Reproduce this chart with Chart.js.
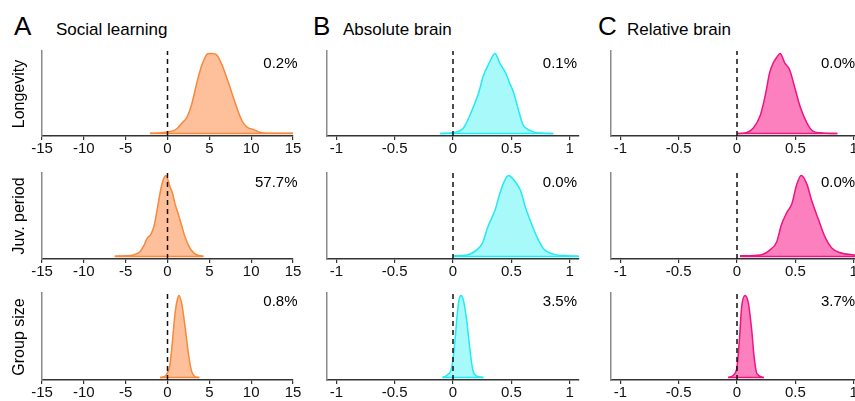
<!DOCTYPE html>
<html>
<head>
<meta charset="utf-8">
<script src="https://cdn.jsdelivr.net/npm/chart.js@4.4.0/dist/chart.umd.min.js"></script>
<style>
html, body { margin: 0; padding: 0; background: #fff; overflow: hidden; }
#wrap { position: relative; width: 855px; height: 401px; overflow: hidden; font-family: 'Liberation Sans', Arial, sans-serif; color: #000; }
#wrap canvas { position: absolute; }
.txt { position: absolute; white-space: nowrap; line-height: 1; }
</style>
</head>
<body>
<div id="wrap"></div>
<script>
// panel labels and titles
const panelLetters = ['A', 'B', 'C'];
const columnTitles = ['Social learning', 'Absolute brain', 'Relative brain'];
const rowLabels = ['Longevity', 'Juv. period', 'Group size'];

// share of posterior below zero, per row then column
const belowZero = [
    ['0.2%', '0.1%', '0.0%'],
    ['57.7%', '0.0%', '0.0%'],
    ['0.8%', '3.5%', '3.7%']
];

// x axis ticks
const ticksSocial = [-15, -10, -5, 0, 5, 10, 15];
const ticksBrain = [-1, -0.5, 0, 0.5, 1];

// posterior densities (relative height)
const socialLongevityX = [-2.1, -1.0, 0.0, 0.5, 1.1, 1.7, 2.3, 2.9, 3.5, 4.0, 4.4, 4.8, 5.3, 5.9, 6.5, 7.3, 8.1, 8.9, 9.5, 10.3, 10.9, 11.5, 13, 15];
const socialLongevityY = [0.005, 0.008, 0.02, 0.03, 0.06, 0.13, 0.2, 0.37, 0.63, 0.82, 0.93, 0.995, 1.0, 0.98, 0.86, 0.63, 0.38, 0.16, 0.08, 0.05, 0.02, 0.008, 0.004, 0.003];

const socialJuvX = [-6.3, -5, -4.1, -3.3, -2.8, -2.4, -2.0, -1.6, -1.2, -0.8, -0.5, -0.2, 0.1, 0.3, 0.6, 0.9, 1.3, 1.7, 2.1, 2.7, 3.2, 3.7, 4.3];
const socialJuvY = [0.005, 0.01, 0.02, 0.06, 0.14, 0.23, 0.27, 0.38, 0.6, 0.83, 0.95, 1.0, 0.93, 0.86, 0.78, 0.65, 0.52, 0.38, 0.24, 0.1, 0.04, 0.015, 0.005];

const socialGroupX = [-0.9, -0.4, -0.1, 0.3, 0.6, 0.9, 1.2, 1.37, 1.7, 2.1, 2.5, 2.9, 3.3, 3.8];
const socialGroupY = [0.0, 0.01, 0.04, 0.16, 0.45, 0.78, 0.96, 1.0, 0.9, 0.62, 0.29, 0.07, 0.01, 0.0];

const absLongevityX = [-0.11, -0.05, 0.0, 0.05, 0.09, 0.16, 0.22, 0.26, 0.31, 0.36, 0.40, 0.45, 0.48, 0.52, 0.56, 0.60, 0.66, 0.70, 0.78, 0.86];
const absLongevityY = [0.0, 0.003, 0.01, 0.03, 0.07, 0.28, 0.51, 0.72, 0.88, 1.0, 0.88, 0.76, 0.65, 0.51, 0.30, 0.11, 0.04, 0.015, 0.005, 0.0];

const absJuvX = [0.0, 0.12, 0.20, 0.25, 0.30, 0.36, 0.40, 0.44, 0.475, 0.53, 0.58, 0.62, 0.66, 0.72, 0.78, 0.86, 0.98, 1.08];
const absJuvY = [0.01, 0.02, 0.08, 0.16, 0.37, 0.57, 0.77, 0.93, 1.0, 0.93, 0.81, 0.61, 0.45, 0.24, 0.09, 0.03, 0.01, 0.005];

const absGroupX = [-0.09, -0.05, -0.01, 0.017, 0.037, 0.054, 0.069, 0.088, 0.117, 0.146, 0.17, 0.2, 0.26];
const absGroupY = [0, 0.03, 0.13, 0.45, 0.78, 0.96, 1.0, 0.95, 0.7, 0.33, 0.09, 0.02, 0];

const relLongevityX = [0.0, 0.08, 0.14, 0.2, 0.24, 0.28, 0.31, 0.34, 0.37, 0.41, 0.45, 0.5, 0.54, 0.6, 0.65, 0.71, 0.86];
const relLongevityY = [0, 0.01, 0.07, 0.23, 0.46, 0.76, 0.88, 0.95, 1.0, 0.88, 0.8, 0.55, 0.34, 0.13, 0.03, 0.01, 0];

const relJuvX = [0.026, 0.2, 0.28, 0.34, 0.38, 0.43, 0.47, 0.51, 0.55, 0.60, 0.64, 0.70, 0.755, 0.81, 0.88, 1.0, 1.08];
const relJuvY = [0.01, 0.02, 0.08, 0.18, 0.39, 0.55, 0.65, 0.88, 1.0, 0.89, 0.69, 0.45, 0.24, 0.11, 0.05, 0.02, 0.01];

const relGroupX = [-0.075, -0.03, 0.0, 0.02, 0.04, 0.069, 0.097, 0.126, 0.146, 0.17, 0.23];
const relGroupY = [0, 0.03, 0.13, 0.45, 0.86, 1.0, 0.91, 0.58, 0.26, 0.05, 0];

const densities = [
    [[socialLongevityX, socialLongevityY], [absLongevityX, absLongevityY], [relLongevityX, relLongevityY]],
    [[socialJuvX, socialJuvY], [absJuvX, absJuvY], [relJuvX, relJuvY]],
    [[socialGroupX, socialGroupY], [absGroupX, absGroupY], [relGroupX, relGroupY]]
];

// styling per column
const lineColors = ['#f7883c', '#22eaf4', '#ee1482'];
const fillColors = ['#fdc09a', '#a8fafa', '#fd80be'];
const xRanges = [[-15, 15], [-1.08, 1.08], [-1.08, 1.08]];
const xTicks = [ticksSocial, ticksBrain, ticksBrain];

// plot area boxes in page pixels
const colLeft = [42, 327, 611];
const colRight = [293, 579, 863];
const rowTop = [51, 173, 293];
const rowBottom = [136, 259, 380];

const wrap = document.getElementById('wrap');
const tickFont = "'Liberation Sans Narrow', 'Arial Narrow', 'Liberation Sans', sans-serif";

function addText(str, x, baseline, size, alignRight) {
    const d = document.createElement('div');
    d.className = 'txt';
    d.textContent = str;
    d.style.fontSize = size + 'px';
    d.style.left = x + 'px';
    d.style.top = (baseline - 0.8465 * size) + 'px';
    if (alignRight) d.style.transform = 'translateX(-100%)';
    wrap.appendChild(d);
}

function addRotated(str, cx, cy, size) {
    const d = document.createElement('div');
    d.className = 'txt';
    d.textContent = str;
    d.style.fontSize = size + 'px';
    d.style.left = cx + 'px';
    d.style.top = cy + 'px';
    d.style.transform = 'translate(-50%, -50%) rotate(-90deg)';
    wrap.appendChild(d);
}

function makePanel(row, col) {
    const [xs, ys] = densities[row][col];
    const padL = col === 0 ? 42 : 20, padR = 12, padT = 6, padB = 26;
    const w = colRight[col] - colLeft[col] + padL + padR;
    const h = rowBottom[row] - rowTop[row] + padT + padB;

    const canvas = document.createElement('canvas');
    canvas.width = w;
    canvas.height = h;
    canvas.style.left = (colLeft[col] - padL) + 'px';
    canvas.style.top = (rowTop[row] - padT) + 'px';
    canvas.style.width = w + 'px';
    canvas.style.height = h + 'px';
    wrap.appendChild(canvas);

    const curve = xs.map((x, i) => ({ x: x, y: ys[i] }));
    const base = [{ x: xs[0], y: 0 }, { x: xs[xs.length - 1], y: 0 }];
    const zeroLine = [{ x: 0, y: -0.03 }, { x: 0, y: 1.03 }];
    const ticks = xTicks[col];

    new Chart(canvas.getContext('2d'), {
        type: 'line',
        data: {
            datasets: [
                { data: zeroLine, borderColor: '#111', borderWidth: 1.5, borderDash: [5, 4], pointRadius: 0, fill: false, order: 0 },
                { data: base, borderColor: lineColors[col], borderWidth: 1.5, pointRadius: 0, fill: false, order: 1 },
                {
                    data: curve, borderColor: lineColors[col], backgroundColor: fillColors[col],
                    borderWidth: 1.5, pointRadius: 0, fill: 'origin', cubicInterpolationMode: 'monotone', order: 2
                }
            ]
        },
        options: {
            responsive: false,
            animation: false,
            devicePixelRatio: 1,
            layout: { padding: { left: padL, right: padR, top: padT, bottom: 0 } },
            plugins: { legend: { display: false }, tooltip: { enabled: false } },
            scales: {
                x: {
                    type: 'linear',
                    min: xRanges[col][0],
                    max: xRanges[col][1],
                    afterBuildTicks: (scale) => { scale.ticks = ticks.map(v => ({ value: v })); },
                    afterFit: (scale) => { scale.height = padB; },
                    grid: { display: true, drawOnChartArea: false, drawTicks: true, tickLength: 4, color: '#333', lineWidth: 1.2 },
                    border: { display: true, color: '#333', width: 1.5 },
                    ticks: {
                        autoSkip: false, maxRotation: 0, padding: 0, color: '#111',
                        font: { family: tickFont, size: 15 },
                        callback: (v) => String(v)
                    }
                },
                y: {
                    type: 'linear',
                    min: -0.03,
                    max: 1.03,
                    afterFit: (scale) => { scale.width = 0; },
                    grid: { display: false },
                    border: { display: true, color: '#8a8a8a', width: 1.5 },
                    ticks: { display: false }
                }
            }
        }
    });
}

for (let r = 0; r < 3; r++) {
    for (let c = 0; c < 3; c++) makePanel(r, c);
}

// headings
addText(panelLetters[0], 14, 35, 26);
addText(panelLetters[1], 313, 35, 26);
addText(panelLetters[2], 598, 35, 26);
addText(columnTitles[0], 56, 35, 17);
addText(columnTitles[1], 343, 35, 17);
addText(columnTitles[2], 627, 35, 17);

// row labels
for (let r = 0; r < 3; r++) {
    addRotated(rowLabels[r], 18.5, (rowTop[r] + rowBottom[r]) / 2, 16);
}

// percentages
const pctBaseline = [68, 187, 306];
for (let r = 0; r < 3; r++) {
    addText(belowZero[r][0], 297.5, pctBaseline[r], 15, true);
    addText(belowZero[r][1], 577, pctBaseline[r], 15, true);
    addText(belowZero[r][2], 821, pctBaseline[r], 15, false);
}
</script>
</body>
</html>
